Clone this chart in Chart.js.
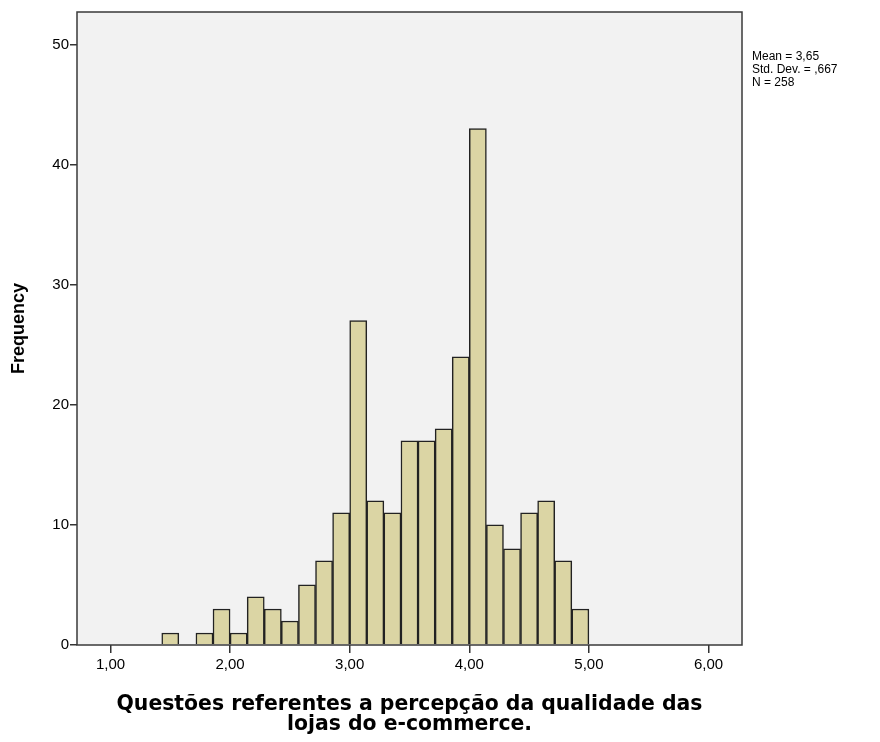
<!DOCTYPE html>
<html>
<head>
<meta charset="utf-8">
<script src="https://cdn.jsdelivr.net/npm/chart.js@4.4.1/dist/chart.umd.min.js"></script>
<style>
  body { margin: 0; background: #fff; }
  canvas { display: block; }
</style>
</head>
<body>
<canvas id="histChart" width="880" height="742"></canvas>
<script>
// --- DATA ---
const binWidth = 1 / 7;
const firstBinStart = 10 / 7;
const frequencies = [1, 0, 1, 3, 1, 4, 3, 2, 5, 7, 11, 27, 12, 11, 17, 17, 18, 24, 43, 10, 8, 11, 12, 7, 3];
const xTicks = [1, 2, 3, 4, 5, 6];
const yTicks = [0, 10, 20, 30, 40, 50];
const statsLines = ["Mean = 3,65", "Std. Dev. = ,667", "N = 258"];
const xTitleLines = ["Questões referentes a percepção da qualidade das", "lojas do e-commerce."];
const yTitle = "Frequency";

const points = frequencies.map((f, i) => ({ x: firstBinStart + (i + 0.5) * binWidth, y: f }));

const FONT = "'Liberation Sans', Arial, sans-serif";

// background, frame, titles, stats box
const decor = {
    id: 'decor',
    beforeDraw(chart) {
        const { ctx, chartArea: a } = chart;
        ctx.save();
        ctx.fillStyle = '#f2f2f2';
        ctx.fillRect(a.left, a.top, a.right - a.left, a.bottom - a.top);
        ctx.restore();
    },
    afterDraw(chart) {
        const { ctx, chartArea: a } = chart;
        ctx.save();
        ctx.strokeStyle = '#3a3a3a';
        ctx.lineWidth = 1.5;
        ctx.strokeRect(a.left, a.top, a.right - a.left, a.bottom - a.top);

        // y title
        ctx.fillStyle = '#000';
        ctx.font = "bold 18px " + FONT;
        ctx.textAlign = 'center';
        ctx.textBaseline = 'middle';
        ctx.translate(19, (a.top + a.bottom) / 2);
        ctx.rotate(-Math.PI / 2);
        ctx.fillText(yTitle, 0, 0);
        ctx.setTransform(1, 0, 0, 1, 0, 0);

        // x title (DejaVu bold, sized so the first line spans ~585px like the original)
        let size = 17;
        ctx.font = "bold " + size + "px 'DejaVu Sans', sans-serif";
        size = size * 585 / ctx.measureText(xTitleLines[0]).width;
        ctx.font = "bold " + size.toFixed(1) + "px 'DejaVu Sans', sans-serif";
        xTitleLines.forEach((t, i) => ctx.fillText(t, (a.left + a.right) / 2, 705 + i * 20));

        // stats
        ctx.font = "12px " + FONT;
        ctx.textAlign = 'left';
        statsLines.forEach((t, i) => ctx.fillText(t, a.right + 10, 57 + i * 13));
        ctx.restore();
    }
};

new Chart(document.getElementById('histChart').getContext('2d'), {
    type: 'bar',
    data: {
        datasets: [{
            data: points,
            backgroundColor: '#dbd5a4',
            borderColor: '#222',
            borderWidth: 1.5,
            barPercentage: 1,
            categoryPercentage: 1
        }]
    },
    options: {
        responsive: false,
        animation: false,
        layout: { padding: { top: 12, right: 138, left: 0, bottom: 0 } },
        plugins: { legend: { display: false }, tooltip: { enabled: false } },
        scales: {
            x: {
                type: 'linear',
                offset: false,
                min: 0.72,
                max: 6.28,
                afterBuildTicks: s => { s.ticks = xTicks.map(v => ({ value: v })); },
                afterFit: s => { s.height = 97; },
                border: { display: false },
                grid: { offset: false, drawOnChartArea: false, drawTicks: true, tickLength: 8, color: '#333', lineWidth: 1.5 },
                ticks: {
                    padding: 3,
                    color: '#000',
                    font: { family: FONT, size: 15 },
                    callback: v => v.toFixed(2).replace('.', ',')
                }
            },
            y: {
                min: 0,
                max: 52.7,
                afterBuildTicks: s => { s.ticks = yTicks.map(v => ({ value: v })); },
                afterFit: s => { s.width = 77; },
                border: { display: false },
                grid: { drawOnChartArea: false, drawTicks: true, tickLength: 7, color: '#333', lineWidth: 1.5 },
                ticks: {
                    padding: 1,
                    color: '#000',
                    font: { family: FONT, size: 15 }
                }
            }
        }
    },
    plugins: [decor]
});
</script>
</body>
</html>
